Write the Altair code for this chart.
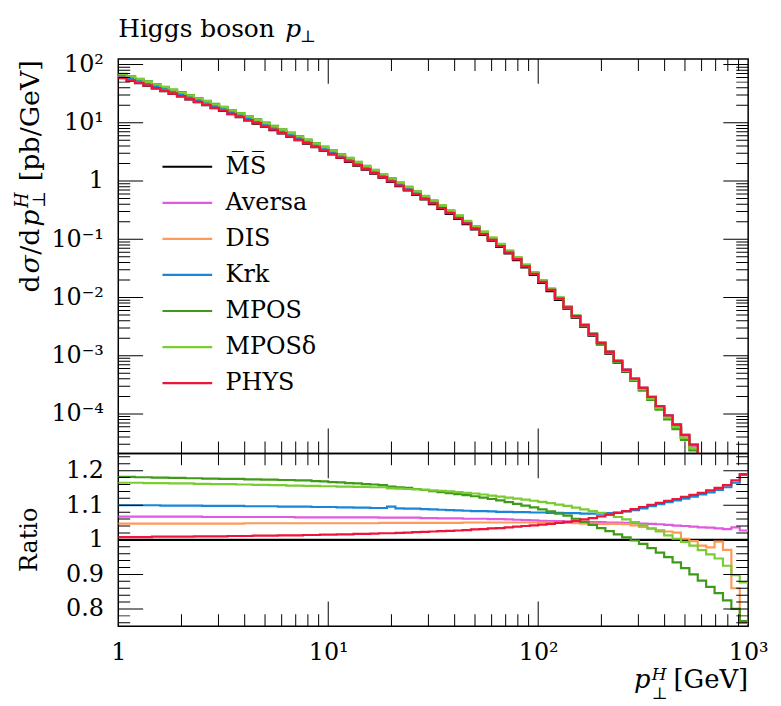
import altair as alt
import pandas as pd

FONT = "DejaVu Serif"
W, H_MAIN, H_RATIO = 634, 397, 174

# ---------------- data ----------------
bins_per_decade = 25
n_bins = 75
bin_edges = [10 ** (i / bins_per_decade) for i in range(n_bins + 1)]  # 1 .. 1000 GeV

series_names = ["M\u0305S\u0305", "Aversa", "DIS", "Krk", "MPOS", "MPOS\u03b4", "PHYS"]
series_colors = ["#000000", "#e05ae0", "#fd9a57", "#1b86d6", "#3f9a19", "#7acc33", "#ee1538"]

# MS-bar reference cross section per bin [pb/GeV]
ms_xsec = [
    58.7, 53.2, 48.2, 43.5, 39.2, 35.2, 31.6, 28.4, 25.4, 22.6,
    20.2, 17.9, 16.0, 14.1, 12.5, 11.0, 9.73, 8.57, 7.52, 6.59,
    5.77, 5.04, 4.40, 3.82, 3.32, 2.88, 2.49, 2.14, 1.84, 1.57,
    1.34, 1.14, 0.968, 0.818, 0.689, 0.578, 0.483, 0.402, 0.333, 0.274,
    0.224, 0.182, 0.148, 0.119, 0.0944, 0.0740, 0.0571, 0.0437, 0.0329, 0.0244,
    0.0178, 0.0129, 0.00912, 0.00643, 0.00452, 0.00317, 0.00222, 0.00156, 0.00109, 7.59e-4,
    5.30e-4, 3.70e-4, 2.57e-4, 1.78e-4, 1.23e-4, 8.51e-5, 5.89e-5, 3.89e-5, 2.63e-5, 1.74e-5,
    1.17e-5, 7.94e-6, 5.37e-6, 3.63e-6, 2.45e-6,
]

ratio_aversa = [
    1.067, 1.067, 1.067, 1.067, 1.067, 1.067, 1.067, 1.067, 1.067, 1.067,
    1.066, 1.066, 1.066, 1.066, 1.066, 1.066, 1.066, 1.066, 1.066, 1.066,
    1.066, 1.065, 1.065, 1.065, 1.065, 1.065, 1.065, 1.065, 1.065, 1.065,
    1.065, 1.064, 1.064, 1.064, 1.064, 1.064, 1.063, 1.063, 1.062, 1.062,
    1.062, 1.061, 1.061, 1.061, 1.060, 1.060, 1.059, 1.058, 1.057, 1.056,
    1.055, 1.054, 1.054, 1.053, 1.052, 1.052, 1.051, 1.051, 1.050, 1.050,
    1.049, 1.048, 1.047, 1.046, 1.045, 1.043, 1.041, 1.040, 1.038, 1.036,
    1.035, 1.033, 1.031, 1.036, 1.027,
]
ratio_dis = [
    1.047, 1.047, 1.047, 1.047, 1.047, 1.047, 1.047, 1.047, 1.047, 1.047,
    1.047, 1.047, 1.047, 1.047, 1.047, 1.048, 1.048, 1.048, 1.048, 1.048,
    1.048, 1.048, 1.048, 1.048, 1.048, 1.048, 1.048, 1.048, 1.048, 1.048,
    1.048, 1.049, 1.049, 1.049, 1.049, 1.049, 1.049, 1.049, 1.049, 1.049,
    1.049, 1.050, 1.050, 1.050, 1.050, 1.050, 1.050, 1.050, 1.050, 1.050,
    1.050, 1.050, 1.050, 1.049, 1.048, 1.047, 1.047, 1.046, 1.046, 1.046,
    1.045, 1.042, 1.037, 1.032, 1.028, 1.024, 1.021, 1.003, 0.996, 0.983,
    0.978, 0.995, 0.971, 0.860, 0.760,
]
ratio_krk = [
    1.100, 1.100, 1.100, 1.100, 1.100, 1.099, 1.099, 1.099, 1.099, 1.099,
    1.098, 1.098, 1.098, 1.098, 1.098, 1.097, 1.097, 1.097, 1.097, 1.096,
    1.096, 1.096, 1.096, 1.095, 1.095, 1.095, 1.094, 1.094, 1.093, 1.093,
    1.092, 1.092, 1.096, 1.091, 1.090, 1.090, 1.089, 1.088, 1.087, 1.086,
    1.085, 1.084, 1.083, 1.083, 1.082, 1.081, 1.081, 1.080, 1.080, 1.079,
    1.079, 1.078, 1.078, 1.077, 1.077, 1.076, 1.076, 1.076, 1.077, 1.079,
    1.082, 1.086, 1.091, 1.097, 1.103, 1.109, 1.114, 1.119, 1.125, 1.131,
    1.137, 1.144, 1.152, 1.165, 1.188,
]
ratio_mpos = [
    1.182, 1.182, 1.181, 1.181, 1.180, 1.180, 1.179, 1.179, 1.178, 1.178,
    1.177, 1.177, 1.176, 1.176, 1.176, 1.175, 1.175, 1.174, 1.174, 1.173,
    1.173, 1.172, 1.172, 1.170, 1.169, 1.167, 1.166, 1.164, 1.163, 1.161,
    1.160, 1.158, 1.154, 1.152, 1.150, 1.147, 1.144, 1.141, 1.138, 1.135,
    1.132, 1.129, 1.126, 1.122, 1.118, 1.114, 1.109, 1.104, 1.099, 1.094,
    1.088, 1.082, 1.076, 1.070, 1.061, 1.052, 1.043, 1.034, 1.025, 1.016,
    1.007, 0.998, 0.988, 0.976, 0.963, 0.950, 0.935, 0.918, 0.900, 0.882,
    0.864, 0.846, 0.825, 0.800, 0.765,
]
ratio_mpos_delta = [
    1.165, 1.165, 1.165, 1.164, 1.164, 1.164, 1.163, 1.163, 1.163, 1.162,
    1.162, 1.161, 1.161, 1.161, 1.160, 1.160, 1.159, 1.159, 1.158, 1.158,
    1.157, 1.157, 1.156, 1.156, 1.155, 1.155, 1.154, 1.154, 1.153, 1.153,
    1.152, 1.152, 1.149, 1.148, 1.147, 1.146, 1.145, 1.143, 1.142, 1.140,
    1.138, 1.136, 1.134, 1.131, 1.128, 1.125, 1.122, 1.119, 1.116, 1.113,
    1.110, 1.106, 1.102, 1.098, 1.093, 1.088, 1.083, 1.078, 1.072, 1.066,
    1.059, 1.051, 1.042, 1.033, 1.024, 1.013, 1.003, 0.994, 0.983, 0.970,
    0.958, 0.946, 0.925, 0.898, 0.877,
]
ratio_phys = [
    1.008, 1.008, 1.008, 1.008, 1.009, 1.009, 1.009, 1.009, 1.009, 1.010,
    1.010, 1.010, 1.010, 1.011, 1.011, 1.011, 1.012, 1.012, 1.012, 1.013,
    1.013, 1.013, 1.014, 1.014, 1.015, 1.015, 1.016, 1.016, 1.017, 1.017,
    1.018, 1.019, 1.019, 1.020, 1.021, 1.022, 1.023, 1.024, 1.025, 1.026,
    1.027, 1.028, 1.030, 1.031, 1.033, 1.034, 1.036, 1.038, 1.040, 1.042,
    1.044, 1.046, 1.049, 1.052, 1.055, 1.059, 1.063, 1.068, 1.073, 1.078,
    1.083, 1.089, 1.095, 1.101, 1.107, 1.113, 1.118, 1.124, 1.130, 1.136,
    1.143, 1.150, 1.158, 1.172, 1.190,
]
ratio_ms = [v / v for v in ms_xsec]

series_ratios = [ratio_ms, ratio_aversa, ratio_dis, ratio_krk,
                 ratio_mpos, ratio_mpos_delta, ratio_phys]

# axis ticks / labels
x_major = [10, 100]
x_minor = [2, 3, 4, 5, 6, 7, 8, 9, 20, 30, 40, 50, 60, 70, 80, 90,
           200, 300, 400, 500, 600, 700, 800, 900]
x_label_values = [1, 10, 100, 1000]
x_label_texts = ["1", "10\u00b9", "10\u00b2", "10\u00b3"]
main_y_label_values = [100, 10, 1, 0.1, 0.01, 0.001, 0.0001]
main_y_label_texts = ["10\u00b2", "10\u00b9", "1", "10\u207b\u00b9", "10\u207b\u00b2",
                      "10\u207b\u00b3", "10\u207b\u2074"]
main_y_minor = [m * 10.0 ** e for e in range(-5, 2) for m in range(2, 10)]
ratio_y_label_values = [0.8, 0.9, 1.0, 1.1, 1.2]
ratio_y_label_texts = ["0.8", "0.9", "1", "1.1", "1.2"]
ratio_y_minor = [0.76, 0.78, 0.82, 0.84, 0.86, 0.88, 0.92, 0.94, 0.96, 0.98,
                 1.02, 1.04, 1.06, 1.08, 1.12, 1.14, 1.16, 1.18, 1.22, 1.24]

MAIN_Y_DOMAIN = [2.1e-5, 125]
RATIO_Y_DOMAIN = [0.75, 1.25]
MAJOR_LEN, MINOR_LEN = 25, 12

# ---------------- tables ----------------
rows_main, rows_ratio = [], []
for name, ratios in zip(series_names, series_ratios):
    for k in range(n_bins):
        for j, xe in enumerate((bin_edges[k], bin_edges[k + 1])):
            rows_main.append({"series": name, "x": xe, "y": ms_xsec[k] * ratios[k], "o": 2 * k + j})
            rows_ratio.append({"series": name, "x": xe, "y": ratios[k], "o": 2 * k + j})
df_main = pd.DataFrame(rows_main)
df_ratio = pd.DataFrame(rows_ratio)


def label_expr(values, texts):
    expr = "''"
    for v, t in zip(values, texts):
        tol = abs(v) * 1e-6
        expr = f"(abs(datum.value - ({v!r})) <= {tol!r}) ? '{t}' : ({expr})"
    return expr


def tick_df(col, major, minor):
    return pd.DataFrame(
        [{col: v, "s": 2 * MAJOR_LEN} for v in major] + [{col: v, "s": 2 * MINOR_LEN} for v in minor]
    )


x_scale = alt.Scale(type="log", domain=[1, 1000], nice=False)
main_y_scale = alt.Scale(type="log", domain=MAIN_Y_DOMAIN, nice=False)
ratio_y_scale = alt.Scale(domain=RATIO_Y_DOMAIN, nice=False, zero=False)

axis_common = dict(ticks=False, domain=False, grid=False, title=None,
                   labelFont=FONT, labelFontSize=24, labelColor="black")
main_x_axis = alt.Axis(labels=False, **axis_common)
main_y_axis = alt.Axis(values=main_y_label_values,
                       labelExpr=label_expr(main_y_label_values, main_y_label_texts),
                       labelPadding=15, **axis_common)
ratio_x_axis = alt.Axis(values=x_label_values,
                        labelExpr=label_expr(x_label_values, x_label_texts),
                        labelPadding=14, labelFlush=False, **axis_common)
ratio_y_axis = alt.Axis(values=ratio_y_label_values,
                        labelExpr=label_expr(ratio_y_label_values, ratio_y_label_texts),
                        labelPadding=15, **axis_common)

one_row = pd.DataFrame({"z": [0]})


def text_layer(text, x, y, size=24, italic=False, align="left", baseline="alphabetic",
               angle=0, dx=0, dy=0):
    props = dict(font=FONT, fontSize=size, color="black", align=align, baseline=baseline,
                 dx=dx, dy=dy)
    if italic:
        props["fontStyle"] = "italic"
    if angle:
        props["angle"] = angle
    return alt.Chart(one_row).mark_text(**props).encode(
        x=alt.value(x), y=alt.value(y), text=alt.value(text))


def frame_ticks(x_axis, y_axis, y_scale, y_major, y_minor, height):
    xt = tick_df("x", x_major, x_minor)
    yt = tick_df("y", y_major, y_minor)
    layers = []
    for ypos in (0, height):
        layers.append(alt.Chart(xt).mark_tick(clip=True, color="black", thickness=1, opacity=1).encode(
            x=alt.X("x:Q", scale=x_scale, axis=x_axis),
            y=alt.value(ypos),
            size=alt.Size("s:Q", scale=None)))
    for xpos in (0, W):
        layers.append(alt.Chart(yt).mark_tick(clip=True, color="black", thickness=1, opacity=1).encode(
            y=alt.Y("y:Q", scale=y_scale, axis=y_axis),
            x=alt.value(xpos),
            size=alt.Size("s:Q", scale=None)))
    return layers


# ---------------- main panel ----------------
color_main = alt.Color(
    "series:N",
    scale=alt.Scale(domain=series_names, range=series_colors),
    sort=series_names,
    legend=alt.Legend(orient="none", legendX=50, legendY=89, title=None,
                      symbolType="M-1.39,0L1.39,0", symbolSize=1296, symbolStrokeWidth=2.2,
                      labelFont=FONT, labelFontSize=24, labelColor="black",
                      labelOffset=19, rowPadding=4.3, padding=0),
)

main_lines = alt.Chart(df_main).mark_line(strokeWidth=2.3, clip=True).encode(
    x=alt.X("x:Q", scale=x_scale, axis=main_x_axis),
    y=alt.Y("y:Q", scale=main_y_scale, axis=main_y_axis),
    color=color_main,
    order=alt.Order("o:Q"),
)

YT_X, YT_Y, YT_FS = -80, 2, 27
main_text = [
    text_layer("Higgs boson", 0, -22, size=25),
    text_layer("p", 168, -22, size=25, italic=True),
    text_layer("\u22a5", 183, -17, size=17),
    # rotated y title: d sigma / d p^H_perp [pb/GeV]
    text_layer("d", YT_X, YT_Y, size=YT_FS, angle=270, dx=-233),
    text_layer("\u03c3", YT_X, YT_Y, size=YT_FS, angle=270, italic=True, dx=-214),
    text_layer("/d", YT_X, YT_Y, size=YT_FS, angle=270, dx=-195),
    text_layer("p", YT_X, YT_Y, size=YT_FS, angle=270, italic=True, dx=-167),
    text_layer("H", YT_X, YT_Y, size=18, angle=270, italic=True, dx=-148, dy=-11),
    text_layer("\u22a5", YT_X, YT_Y, size=18, angle=270, dx=-148, dy=6),
    text_layer("[pb/GeV]", YT_X, YT_Y, size=YT_FS, angle=270, dx=-121),
]

main_panel = alt.layer(
    main_lines,
    *frame_ticks(main_x_axis, main_y_axis, main_y_scale, main_y_label_values, main_y_minor, H_MAIN),
    *main_text,
).properties(width=W, height=H_MAIN)

# ---------------- ratio panel ----------------
color_ratio = alt.Color(
    "series:N",
    scale=alt.Scale(domain=series_names, range=series_colors),
    sort=series_names,
    legend=None,
)
ratio_lines = alt.Chart(df_ratio).mark_line(strokeWidth=2.2, clip=True).encode(
    x=alt.X("x:Q", scale=x_scale, axis=ratio_x_axis),
    y=alt.Y("y:Q", scale=ratio_y_scale, axis=ratio_y_axis),
    color=color_ratio,
    order=alt.Order("o:Q"),
)
ratio_text = [
    text_layer("Ratio", -89, 87, size=24, angle=270, align="center", baseline="middle"),
    text_layer("p", 519, 236, size=26, italic=True),
    text_layer("H", 537, 228, size=17, italic=True),
    text_layer("\u22a5", 537, 247, size=17),
    text_layer("[GeV]", W, 236, size=26, align="right"),
]
ratio_panel = alt.layer(
    ratio_lines,
    *frame_ticks(ratio_x_axis, ratio_y_axis, ratio_y_scale, ratio_y_label_values, ratio_y_minor, H_RATIO),
    *ratio_text,
).properties(width=W, height=H_RATIO)

chart = alt.vconcat(main_panel, ratio_panel, spacing=0, bounds="flush").resolve_scale(
    color="independent"
).resolve_legend(color="independent").properties(
    padding={"left": 5, "top": 6, "right": 4, "bottom": 4},
    background="white",
).configure_view(stroke="black", strokeWidth=1.5)

chart.save("out.html", embed_options={"renderer": "svg", "actions": False})
